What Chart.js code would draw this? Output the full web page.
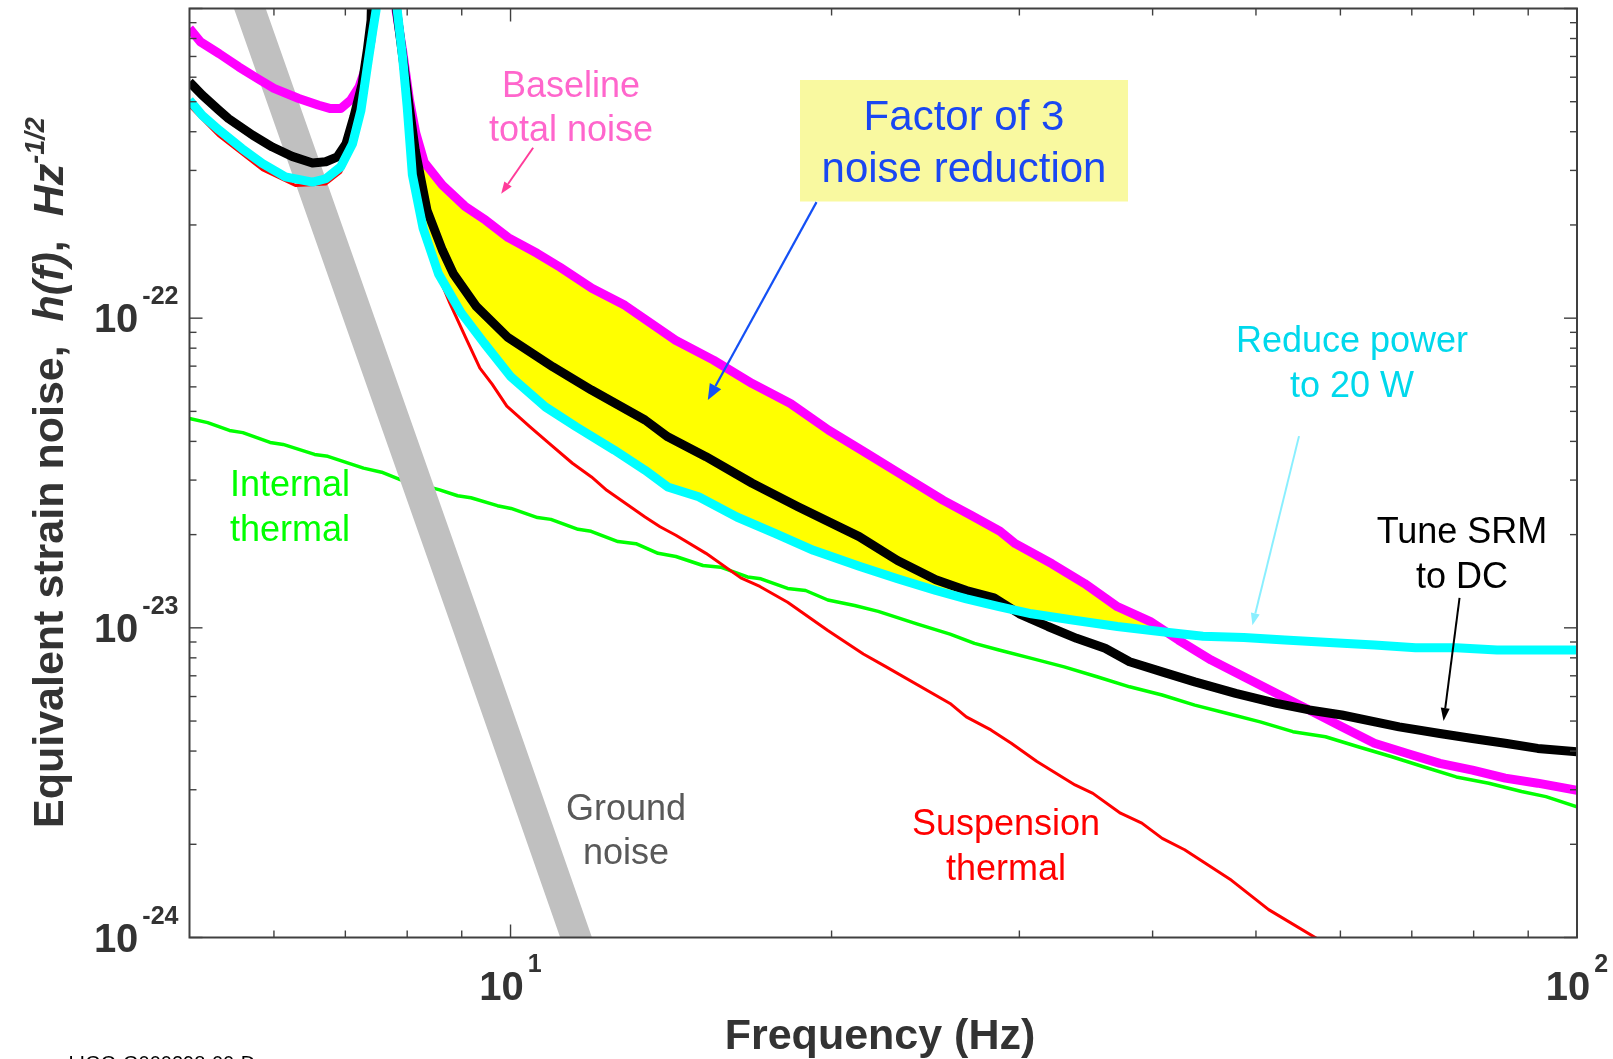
<!DOCTYPE html>
<html>
<head>
<meta charset="utf-8">
<script src="https://cdn.jsdelivr.net/npm/chart.js@4.4.1/dist/chart.umd.min.js"></script>
<style>
  html, body { margin: 0; padding: 0; background: #ffffff; }
  #wrap { width: 1613px; height: 1059px; position: relative; overflow: hidden; }
  canvas { display: block; }
</style>
</head>
<body>
<div id="wrap"><canvas id="noise" width="1613" height="1059"></canvas></div>
<script>
// Frequency (Hz) and equivalent strain noise (1/sqrt(Hz)) of each curve.
const baselineFreq = [5.00, 5.12, 5.33, 5.56, 5.79, 6.00, 6.33, 6.61, 6.78, 6.93, 7.08, 7.21, 7.32, 7.40, 7.45, 7.63, 7.81, 7.92, 8.04, 8.15, 8.30, 8.63, 9.06, 9.48, 9.95, 10.59, 11.13, 11.92, 12.80, 14.28, 15.50, 16.85, 18.30, 19.87, 21.58, 23.45, 25.46, 27.08, 28.77, 29.74, 32.19, 34.54, 37.07, 39.77, 42.30, 45.39, 48.71, 52.28, 56.09, 60.18, 64.57, 69.33, 74.37, 79.79, 85.64, 91.87, 100];
const baselineNoise = [8.62e-22, 7.80e-22, 7.15e-22, 6.48e-22, 5.94e-22, 5.52e-22, 5.12e-22, 4.87e-22, 4.75e-22, 4.75e-22, 5.06e-22, 5.58e-22, 6.48e-22, 7.90e-22, 9.87e-22, 1e-19, 9.87e-22, 7.33e-22, 5.06e-22, 3.96e-22, 3.19e-22, 2.69e-22, 2.30e-22, 2.07e-22, 1.82e-22, 1.62e-22, 1.46e-22, 1.25e-22, 1.10e-22, 8.49e-23, 7.32e-23, 6.15e-23, 5.30e-23, 4.35e-23, 3.66e-23, 3.07e-23, 2.58e-23, 2.30e-23, 2.05e-23, 1.87e-23, 1.61e-23, 1.39e-23, 1.17e-23, 1.05e-23, 9.13e-24, 7.87e-24, 6.95e-24, 6.14e-24, 5.43e-24, 4.79e-24, 4.24e-24, 3.93e-24, 3.65e-24, 3.47e-24, 3.27e-24, 3.15e-24, 2.99e-24];

const srmFreq = [5.00, 5.14, 5.33, 5.44, 5.73, 5.98, 6.24, 6.52, 6.71, 6.88, 7.01, 7.13, 7.26, 7.34, 7.40, 7.63, 7.82, 8.02, 8.14, 8.35, 8.63, 8.84, 9.29, 9.93, 10.96, 11.91, 13.37, 14.04, 15.25, 16.85, 18.60, 21.23, 23.06, 25.05, 26.76, 28.40, 30.00, 31.91, 33.94, 36.10, 38.06, 40.83, 43.81, 47.86, 52.28, 56.09, 60.18, 68.11, 74.37, 79.79, 85.64, 91.87, 100];
const srmNoise = [5.79e-22, 5.25e-22, 4.69e-22, 4.41e-22, 3.90e-22, 3.57e-22, 3.33e-22, 3.17e-22, 3.20e-22, 3.32e-22, 3.66e-22, 4.47e-22, 5.72e-22, 7.33e-22, 9.16e-22, 1e-19, 9.87e-22, 5.06e-22, 3.49e-22, 2.23e-22, 1.66e-22, 1.39e-22, 1.09e-22, 8.70e-23, 6.96e-23, 5.86e-23, 4.69e-23, 4.14e-23, 3.57e-23, 2.93e-23, 2.46e-23, 1.97e-23, 1.65e-23, 1.43e-23, 1.32e-23, 1.25e-23, 1.11e-23, 1.01e-23, 9.25e-24, 8.59e-24, 7.77e-24, 7.21e-24, 6.69e-24, 6.14e-24, 5.70e-24, 5.43e-24, 5.23e-24, 4.79e-24, 4.56e-24, 4.39e-24, 4.24e-24, 4.08e-24, 3.98e-24];

const powerFreq = [5.00, 5.14, 5.33, 5.60, 5.85, 6.15, 6.52, 6.71, 6.93, 7.11, 7.24, 7.34, 7.42, 7.48, 7.63, 7.83, 7.92, 8.00, 8.09, 8.28, 8.56, 8.99, 9.45, 10.01, 10.78, 11.52, 12.51, 13.37, 14.04, 15.01, 16.30, 17.70, 19.23, 21.23, 23.06, 25.05, 26.76, 28.71, 30.80, 33.65, 37.07, 40.83, 44.59, 48.71, 53.20, 59.13, 64.57, 70.57, 77.05, 84.14, 100];
const powerNoise = [5.06e-22, 4.52e-22, 4.05e-22, 3.53e-22, 3.16e-22, 2.86e-22, 2.75e-22, 2.82e-22, 3.08e-22, 3.66e-22, 4.69e-22, 6.48e-22, 8.30e-22, 9.87e-22, 1e-19, 9.87e-22, 6.98e-22, 4.81e-22, 2.90e-22, 1.95e-22, 1.39e-22, 1.04e-22, 8.29e-23, 6.46e-23, 5.17e-23, 4.46e-23, 3.75e-23, 3.23e-23, 2.85e-23, 2.65e-23, 2.28e-23, 2.02e-23, 1.78e-23, 1.58e-23, 1.44e-23, 1.32e-23, 1.24e-23, 1.17e-23, 1.11e-23, 1.06e-23, 1.01e-23, 9.71e-24, 9.40e-24, 9.31e-24, 9.13e-24, 8.95e-24, 8.80e-24, 8.62e-24, 8.62e-24, 8.48e-24, 8.48e-24];

const suspFreq = [5.00, 5.33, 5.85, 6.29, 6.71, 6.93, 7.11, 7.24, 7.34, 7.48, 7.63, 7.83, 8.00, 8.09, 8.26, 8.48, 8.77, 9.07, 9.36, 9.61, 9.92, 10.43, 10.87, 11.43, 11.91, 12.31, 13.37, 13.81, 14.29, 15.25, 16.44, 17.13, 18.19, 19.84, 21.42, 22.44, 25.83, 26.75, 28.21, 29.48, 31.16, 33.83, 35.16, 37.32, 39.08, 40.84, 42.86, 44.79, 47.43, 51.39, 56.98, 58.0];
const suspNoise = [4.84e-22, 3.87e-22, 3.02e-22, 2.68e-22, 2.71e-22, 2.96e-22, 3.55e-22, 4.56e-22, 6.30e-22, 9.72e-22, 1e-19, 9.72e-22, 4.72e-22, 2.90e-22, 1.98e-22, 1.48e-22, 1.12e-22, 8.70e-23, 6.90e-23, 6.12e-23, 5.20e-23, 4.46e-23, 3.94e-23, 3.40e-23, 3.07e-23, 2.78e-23, 2.28e-23, 2.12e-23, 1.99e-23, 1.74e-23, 1.45e-23, 1.36e-23, 1.21e-23, 9.81e-24, 8.23e-24, 7.52e-24, 5.70e-24, 5.16e-24, 4.68e-24, 4.24e-24, 3.70e-24, 3.11e-24, 2.92e-24, 2.52e-24, 2.34e-24, 2.09e-24, 1.92e-24, 1.74e-24, 1.53e-24, 1.23e-24, 9.94e-25, 9.4e-25];

const internalFreq = [5.00, 5.20, 5.45, 5.61, 5.95, 6.12, 6.55, 6.74, 7.28, 7.57, 7.86, 8.17, 8.58, 8.92, 9.18, 9.72, 10.01, 10.60, 10.91, 11.57, 11.90, 12.61, 13.11, 13.75, 14.29, 15.15, 15.74, 16.68, 17.17, 18.19, 18.91, 19.84, 21.02, 22.12, 24.04, 25.83, 27.23, 28.71, 30.80, 33.05, 35.48, 38.06, 40.83, 43.81, 47.03, 50.46, 54.15, 58.10, 62.34, 66.93, 71.78, 77.05, 82.66, 88.71, 93.51, 100];
const internalNoise = [4.74e-23, 4.60e-23, 4.34e-23, 4.27e-23, 3.97e-23, 3.91e-23, 3.63e-23, 3.58e-23, 3.28e-23, 3.18e-23, 3.02e-23, 2.92e-23, 2.79e-23, 2.67e-23, 2.63e-23, 2.48e-23, 2.43e-23, 2.27e-23, 2.24e-23, 2.08e-23, 2.05e-23, 1.90e-23, 1.87e-23, 1.74e-23, 1.70e-23, 1.59e-23, 1.57e-23, 1.46e-23, 1.44e-23, 1.34e-23, 1.32e-23, 1.23e-23, 1.18e-23, 1.13e-23, 1.03e-23, 9.54e-24, 8.91e-24, 8.48e-24, 7.97e-24, 7.48e-24, 6.95e-24, 6.45e-24, 6.07e-24, 5.63e-24, 5.29e-24, 4.97e-24, 4.62e-24, 4.45e-24, 4.13e-24, 3.84e-24, 3.56e-24, 3.30e-24, 3.15e-24, 2.96e-24, 2.85e-24, 2.64e-24];

const groundFreq = [5.40, 5.70, 9.12, 11.52, 12.0];
const groundNoise = [1.69e-21, 9.92e-22, 1.0e-23, 1.0e-24, 6.7e-25];

// Band shaded between the baseline and the 20 W curve (Hz)
const bandFreqRange = [7.8, 41];

// Axis ticks
const xMajorTicks = [10, 100];
const xMinorTicks = [6, 7, 8, 9, 20, 30, 40, 50, 60, 70, 80, 90];
const xTickLabels = ['1', '2'];
const yMajorTicks = [1e-24, 1e-23, 1e-22, 1e-21];
const yLabelTicks = [1e-24, 1e-23, 1e-22];
const yTickLabels = ['-24', '-23', '-22'];

const FONT = '"Liberation Sans", Arial, Helvetica, sans-serif';

const pts = (fs, hs) => fs.map((f, i) => ({ x: f, y: hs[i] }));
const inBand = (fs, hs) => pts(fs, hs).filter(p => p.x >= bandFreqRange[0] && p.x <= bandFreqRange[1]);

function curve(data, color, width, order) {
  return {
    data, borderColor: color, backgroundColor: color, borderWidth: width,
    pointRadius: 0, pointHoverRadius: 0, fill: false, tension: 0,
    borderJoinStyle: 'round', borderCapStyle: 'butt', order, clip: 0
  };
}

// Text labels placed on the plot (centre x, first baseline y in canvas px)
const labels = [
  { lines: ['Baseline', 'total noise'], color: '#FF66CC', size: 36, x: 571, y: 97, lh: 43.5 },
  { lines: ['Internal', 'thermal'], color: '#00FF00', size: 36, x: 290, y: 496, lh: 45 },
  { lines: ['Ground', 'noise'], color: '#595959', size: 36, x: 626, y: 820, lh: 44 },
  { lines: ['Suspension', 'thermal'], color: '#FF0000', size: 36, x: 1006, y: 835, lh: 45 },
  { lines: ['Reduce power', 'to 20 W'], color: '#00D8EC', size: 36, x: 1352, y: 352, lh: 45 },
  { lines: ['Tune SRM', 'to DC'], color: '#000000', size: 36, x: 1462, y: 543, lh: 45 }
];
const factorBox = { left: 800, top: 80, right: 1128, bottom: 201.5, fill: '#F9F9A0' };
const factorText = { lines: ['Factor of 3', 'noise reduction'], color: '#1A47F2', size: 42, x: 964, y: 130, lh: 52 };

// Pointer arrows, given in data units (Hz, strain)
const arrows = [
  { from: [10.50, 3.55e-22], to: [9.80, 2.52e-22], color: '#FF3C9A', width: 2, head: 12, hw: 9 },
  { from: [19.36, 2.37e-22], to: [15.31, 5.44e-23], color: '#1450F5', width: 2.2, head: 16, hw: 13 },
  { from: [54.87, 4.16e-23], to: [49.62, 1.02e-23], color: '#8AEFFF', width: 2, head: 12, hw: 9 },
  { from: [77.6, 1.25e-23], to: [74.97, 5.0e-24], color: '#000000', width: 2, head: 13, hw: 9 }
];

function drawArrow(ctx, x1, y1, x2, y2, a) {
  const ang = Math.atan2(y2 - y1, x2 - x1);
  const bx = x2 - a.head * Math.cos(ang), by = y2 - a.head * Math.sin(ang);
  ctx.strokeStyle = a.color; ctx.fillStyle = a.color; ctx.lineWidth = a.width;
  ctx.beginPath(); ctx.moveTo(x1, y1); ctx.lineTo(bx, by); ctx.stroke();
  const nx = -Math.sin(ang) * a.hw / 2, ny = Math.cos(ang) * a.hw / 2;
  ctx.beginPath(); ctx.moveTo(x2, y2); ctx.lineTo(bx + nx, by + ny); ctx.lineTo(bx - nx, by - ny);
  ctx.closePath(); ctx.fill();
}

function drawLines(ctx, t, weight) {
  ctx.font = (weight || '') + ' ' + t.size + 'px ' + FONT;
  ctx.fillStyle = t.color; ctx.textAlign = 'center'; ctx.textBaseline = 'alphabetic';
  t.lines.forEach((s, i) => ctx.fillText(s, t.x, t.y + i * t.lh));
}

function power10(ctx, exp, anchorX, baseY, align) {
  ctx.font = 'bold 40px ' + FONT;
  const w10 = ctx.measureText('10').width;
  ctx.font = 'bold 25px ' + FONT;
  const we = ctx.measureText(exp).width;
  const gap = 4, total = w10 + gap + we;
  const left = align === 'center' ? anchorX - total / 2 : anchorX - total;
  ctx.fillStyle = '#333333'; ctx.textAlign = 'left'; ctx.textBaseline = 'alphabetic';
  ctx.font = 'bold 40px ' + FONT; ctx.fillText('10', left, baseY);
  ctx.font = 'bold 25px ' + FONT; ctx.fillText(exp, left + w10 + gap, baseY - 28);
}

const decor = {
  id: 'decor',
  afterDatasetsDraw(chart) {
    const { ctx, chartArea: a, scales: { x, y } } = chart;
    ctx.save();

    // annotation box and labels
    ctx.fillStyle = factorBox.fill;
    ctx.fillRect(factorBox.left, factorBox.top, factorBox.right - factorBox.left, factorBox.bottom - factorBox.top);
    drawLines(ctx, factorText);
    labels.forEach(t => drawLines(ctx, t));
    arrows.forEach(ar => drawArrow(ctx,
      x.getPixelForValue(ar.from[0]), y.getPixelForValue(ar.from[1]),
      x.getPixelForValue(ar.to[0]), y.getPixelForValue(ar.to[1]), ar));

    // box frame
    ctx.strokeStyle = '#404040'; ctx.lineWidth = 2;
    ctx.strokeRect(a.left, a.top, a.right - a.left, a.bottom - a.top);

    // inward tick marks on all four sides
    ctx.lineWidth = 1.4;
    const seg = (x1, y1, x2, y2) => { ctx.beginPath(); ctx.moveTo(x1, y1); ctx.lineTo(x2, y2); ctx.stroke(); };
    const xt = (v, len) => { const p = x.getPixelForValue(v); seg(p, a.bottom, p, a.bottom - len); seg(p, a.top, p, a.top + len); };
    const yt = (v, len) => { const p = y.getPixelForValue(v); seg(a.left, p, a.left + len, p); seg(a.right, p, a.right - len, p); };
    xMajorTicks.forEach(v => xt(v, 13));
    xMinorTicks.forEach(v => xt(v, 7));
    yMajorTicks.forEach(v => yt(v, 13));
    for (let d = 0; d < yMajorTicks.length - 1; d++) {
      for (let m = 2; m <= 9; m++) yt(m * yMajorTicks[d], 7);
    }

    // tick labels
    xMajorTicks.forEach((v, i) => power10(ctx, xTickLabels[i], x.getPixelForValue(v), 1000, 'center'));
    yLabelTicks.forEach((v, i) => { const p = y.getPixelForValue(v); power10(ctx, yTickLabels[i], a.left - 11, p + 14, 'right'); });

    // axis titles
    ctx.fillStyle = '#333333'; ctx.textAlign = 'center'; ctx.textBaseline = 'alphabetic';
    ctx.font = 'bold 43px ' + FONT;
    ctx.fillText('Frequency (Hz)', 880, 1049);

    ctx.save();
    ctx.translate(63, 828);
    ctx.rotate(-Math.PI / 2);
    ctx.textAlign = 'left';
    const parts = [
      { t: 'Equivalent strain noise,  ', f: 'bold 43px ' },
      { t: 'h(f)', f: 'italic bold 43px ' },
      { t: ',  ', f: 'bold 43px ' },
      { t: 'Hz', f: 'italic bold 43px ' },
      { t: '-1/2', f: 'italic bold 27px ', dy: -19 }
    ];
    let cx = 0;
    parts.forEach(p => { ctx.font = p.f + FONT; ctx.fillText(p.t, cx, p.dy || 0); cx += ctx.measureText(p.t).width; });
    ctx.restore();

    // document number at the foot of the slide
    ctx.fillStyle = '#000000'; ctx.textAlign = 'left';
    ctx.font = '20px ' + FONT;
    ctx.fillText('LIGO-G000298-00-D', 68.5, 1069.5);

    ctx.restore();
  }
};

const bandTop = Object.assign(curve(inBand(baselineFreq, baselineNoise), 'rgba(0,0,0,0)', 0, 7), { fill: { target: 1 }, backgroundColor: '#FFFF00' });
const bandBottom = curve(inBand(powerFreq, powerNoise), 'rgba(0,0,0,0)', 0, 6);

new Chart(document.getElementById('noise'), {
  type: 'line',
  data: {
    datasets: [
      bandTop,
      bandBottom,
      curve(pts(internalFreq, internalNoise), '#00FF00', 3.5, 5),
      curve(pts(groundFreq, groundNoise), '#C0C0C0', 30, 4),
      curve(pts(suspFreq, suspNoise), '#FF0000', 3, 3),
      curve(pts(baselineFreq, baselineNoise), '#FF00FF', 9, 2),
      curve(pts(srmFreq, srmNoise), '#000000', 9, 1),
      curve(pts(powerFreq, powerNoise), '#00FFFF', 9, 0)
    ]
  },
  options: {
    responsive: false,
    animation: false,
    devicePixelRatio: 1,
    events: [],
    layout: { padding: { left: 189.5, top: 8.5, right: 36, bottom: 121.5 } },
    plugins: { legend: { display: false }, tooltip: { enabled: false }, filler: { propagate: false } },
    scales: {
      x: { type: 'logarithmic', min: 5, max: 100, display: false },
      y: { type: 'logarithmic', min: 1e-24, max: 1e-21, display: false }
    }
  },
  plugins: [decor]
});
</script>
</body>
</html>
